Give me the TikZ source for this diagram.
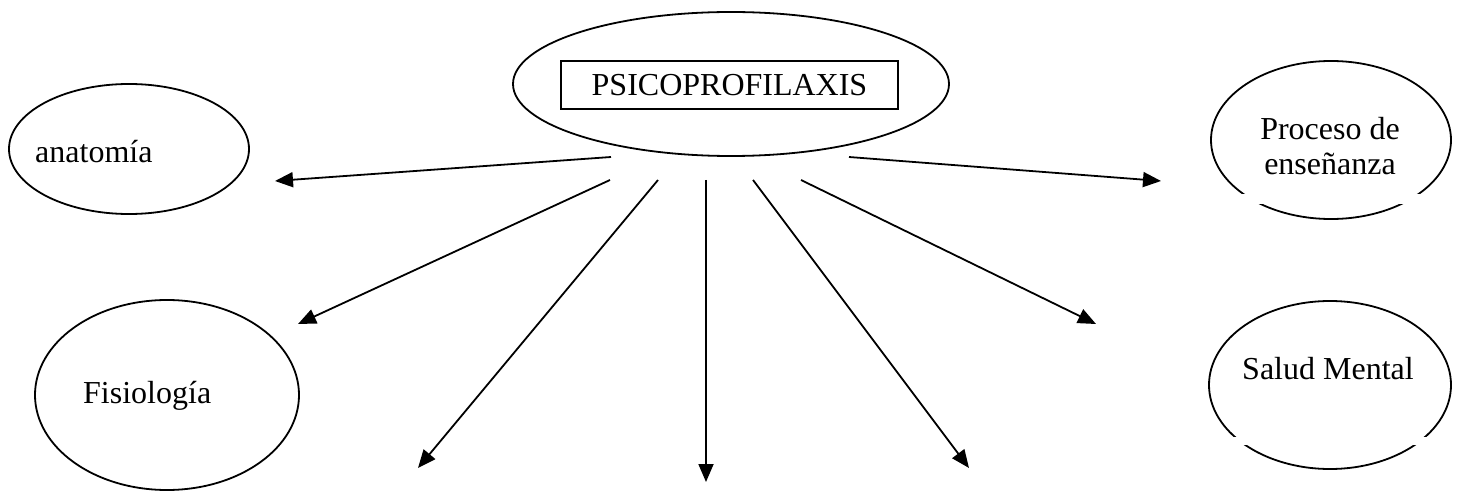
\documentclass[tikz,border=0pt]{standalone}
\usepackage{fontspec}
\setmainfont{Liberation Serif}
\usetikzlibrary{arrows.meta,shapes.geometric}
\tikzset{
  bubble/.style={draw, ellipse, line width=1.8pt, inner sep=0pt},
  titlebox/.style={draw, rectangle, line width=1.8pt, inner sep=0pt,
    minimum width=337pt, minimum height=48pt},
  txt/.style={inner sep=0pt, font=\fontsize{32}{35}\selectfont},
  link/.style={line width=1.8pt, -{Triangle[length=18pt,width=15pt]}}
}
\begin{document}
\begin{tikzpicture}[x=1pt,y=-1pt]
    \useasboundingbox (0,0) rectangle (1460,492);
    \node[bubble, minimum width=436pt, minimum height=144pt] (psico) at (731,84) {};
    \node[titlebox, txt] (titulo) at (729.5,85) {PSICOPROFILAXIS};
    \node[bubble, minimum width=240pt, minimum height=130pt] (anat) at (129,149) {};
    \node[bubble, minimum width=264pt, minimum height=190pt] (fisio) at (167,395) {};
    \node[bubble, minimum width=240pt, minimum height=158pt] (proc) at (1331,140) {};
    \node[bubble, minimum width=242pt, minimum height=168pt] (salud) at (1330,385) {};
    \fill[white] (1200,194) rectangle (1460,204);
    \fill[white] (1200,437) rectangle (1460,445);
    \node[txt, anchor=base west] (anat_t) at (35,163) {anatomía};
    \node[txt, anchor=base west] (fisio_t) at (83,403) {Fisiología};
    \node[txt, anchor=base, align=center] (proc_t) at (1330,175) {Proceso de\\enseñanza};
    \node[txt, anchor=base] (salud_t) at (1328,379) {Salud Mental};
    \coordinate (s_1) at (611,157);
    \coordinate (s_2) at (610,180);
    \coordinate (s_3) at (658,180);
    \coordinate (s_4) at (706,180);
    \coordinate (s_5) at (753,180);
    \coordinate (s_6) at (801,180);
    \coordinate (s_7) at (849,157);
    \coordinate (t_1) at (275,181);
    \coordinate (t_2) at (298,324);
    \coordinate (t_3) at (418,468);
    \coordinate (t_4) at (706,482);
    \coordinate (t_5) at (969,468);
    \coordinate (t_6) at (1096,324);
    \coordinate (t_7) at (1161,181);
    \foreach \i in {1,...,7}
      \draw[link] (s_\i) -- (t_\i);
\end{tikzpicture}
\end{document}
